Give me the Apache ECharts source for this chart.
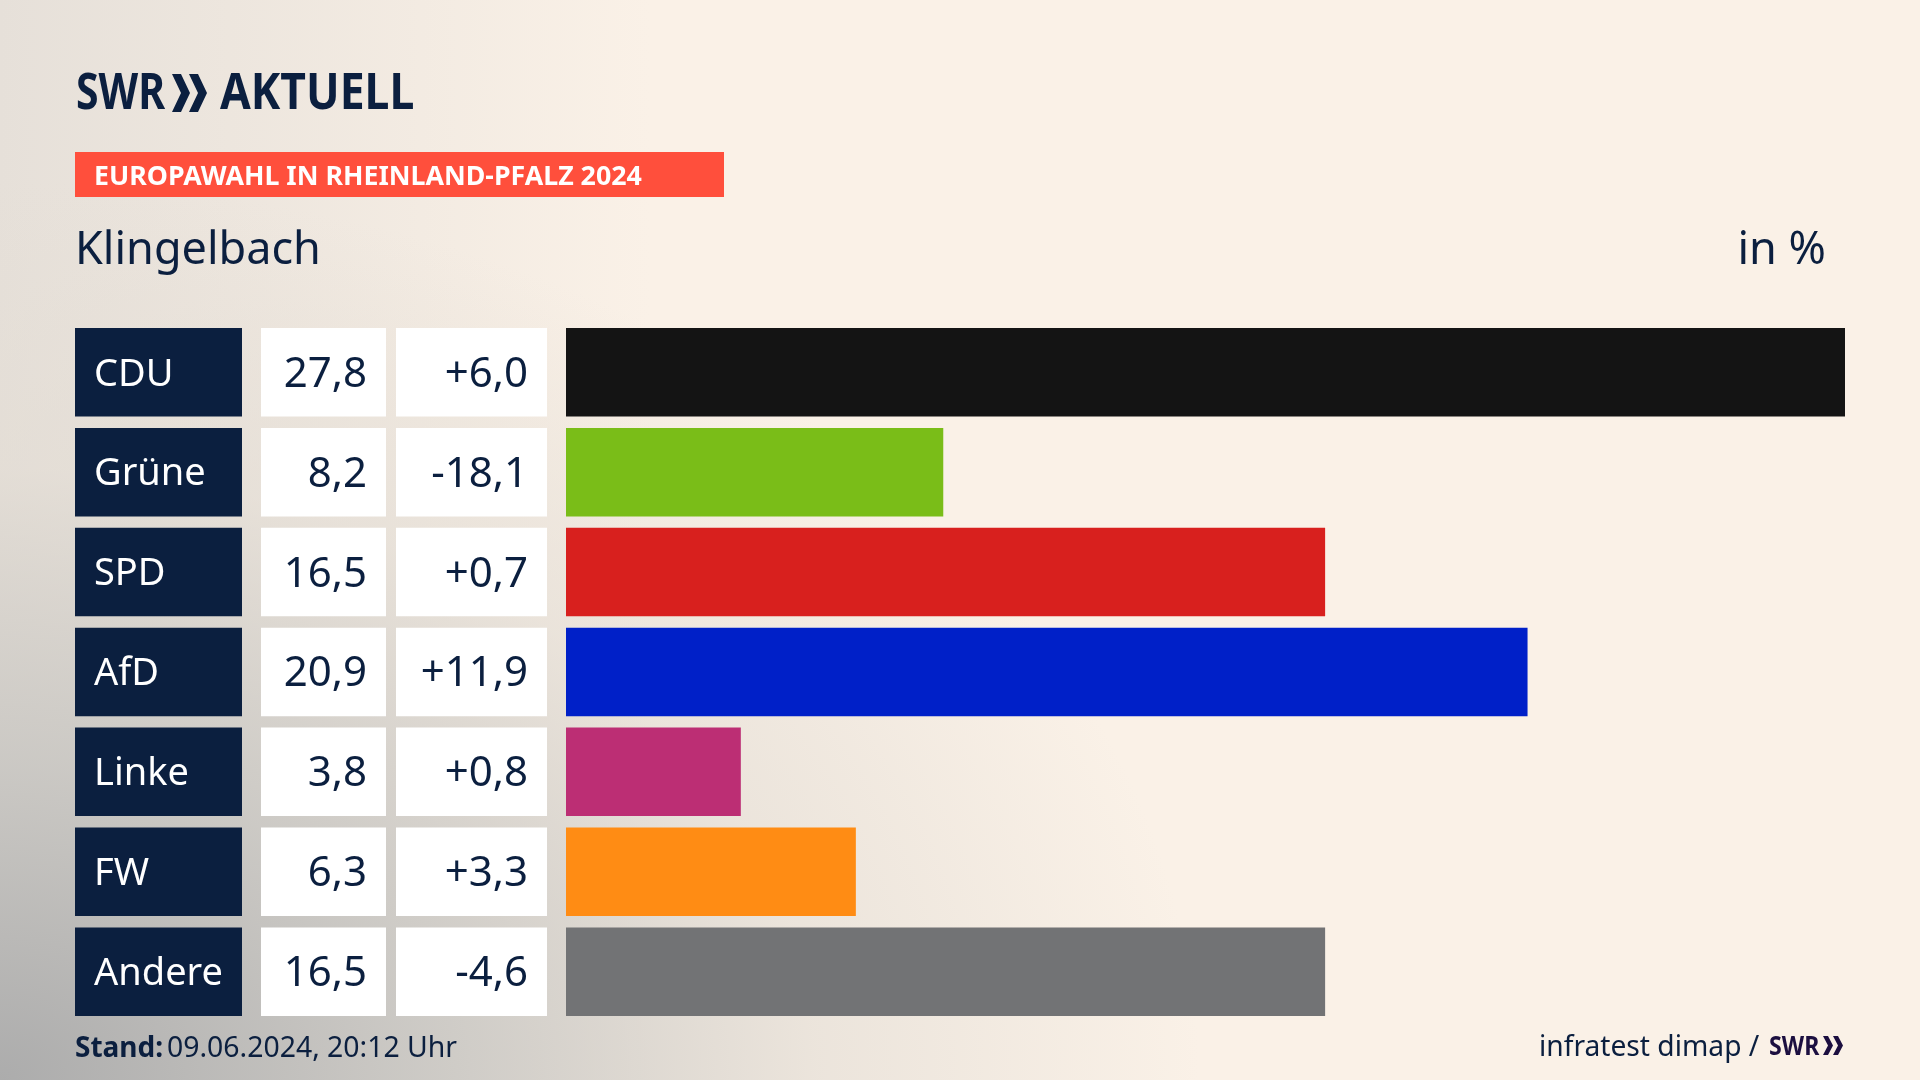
<!DOCTYPE html>
<html>
<head>
<meta charset="utf-8">
<title>Europawahl Klingelbach</title>
<script src="https://cdn.jsdelivr.net/npm/echarts@6/dist/echarts.min.js"></script>
<style>
html, body { margin: 0; width: 100%; height: 100%; }
body {
	background:
		radial-gradient(ellipse 1200px 900px at 0% 100%, rgba(172,172,172,1) 0%, rgba(200,198,194,0.9) 35%, rgba(226,220,212,0.6) 68%, rgba(250,241,231,0) 100%),
		linear-gradient(90deg, #e6e0d9 0px, #faf1e7 650px);
	background-color: #faf1e7;
}
#chart { width: 1920px; height: 1080px; }
</style>
</head>
<body>
<div id="chart"></div>
<script>
const parties = ['CDU', 'Grüne', 'SPD', 'AfD', 'Linke', 'FW', 'Andere'];
const shares = [27.8, 8.2, 16.5, 20.9, 3.8, 6.3, 16.5];
const changes = ['+6,0', '-18,1', '+0,7', '+11,9', '+0,8', '+3,3', '-4,6'];
const barColors = ['#141414', '#7abd18', '#d8201e', '#0020c8', '#bc2e74', '#ff8c14', '#727375'];

const NAVY = '#0b1f3f';
const FONT = '"Noto Sans"';
const BAR_H = 88.5;

// jede Tabellenspalte ist ein eigenes Grid mit Balken über die volle Breite
const columns = [
	{ left: 75, width: 167, color: NAVY, text: '#ffffff', pos: 'insideLeft', size: 38, label: i => parties[i] },
	{ left: 261, width: 125, color: '#ffffff', text: NAVY, pos: 'insideRight', size: 42, label: i => shares[i].toFixed(1).replace('.', ',') },
	{ left: 396, width: 151, color: '#ffffff', text: NAVY, pos: 'insideRight', size: 42, label: i => changes[i] }
];
const gridTop = 322.3;
const gridHeight = 699.3;

const grids = [], xAxes = [], yAxes = [], series = [];
columns.forEach((c, n) => {
	grids.push({ left: c.left, width: c.width, top: gridTop, height: gridHeight });
	xAxes.push({ type: 'value', gridIndex: n, min: 0, max: 1, show: false });
	yAxes.push({ type: 'category', gridIndex: n, data: parties, inverse: true, show: false });
	series.push({
		type: 'bar',
		xAxisIndex: n,
		yAxisIndex: n,
		barWidth: BAR_H,
		silent: true,
		data: parties.map(() => 1),
		itemStyle: { color: c.color },
		label: {
			show: true,
			position: c.pos,
			distance: 19,
			offset: [0, 2.5],
			color: c.text,
			fontFamily: FONT,
			fontSize: c.size,
			formatter: p => c.label(p.dataIndex)
		}
	});
});

// die eigentlichen Ergebnisbalken
grids.push({ left: 566, width: 1279, top: gridTop, height: gridHeight });
xAxes.push({ type: 'value', gridIndex: 3, min: 0, max: 27.8, show: false });
yAxes.push({ type: 'category', gridIndex: 3, data: parties, inverse: true, show: false });
series.push({
	type: 'bar',
	xAxisIndex: 3,
	yAxisIndex: 3,
	barWidth: BAR_H,
	silent: true,
	data: shares.map((v, i) => ({ value: v, itemStyle: { color: barColors[i] } }))
});

function chevron(x, y, w, h, t, color) {
	return {
		type: 'polygon',
		shape: { points: [[x, y], [x + t, y], [x + w, y + h / 2], [x + t, y + h], [x, y + h], [x + w - t, y + h / 2]] },
		style: { fill: color }
	};
}

function txt(x, y, text, font, fill, align, extra) {
	return Object.assign({
		type: 'text',
		x: x,
		y: y,
		style: { text: text, font: font, fill: fill, align: align || 'left', verticalAlign: 'middle' }
	}, extra || {});
}

const PURPLE = '#1c0f40';
const graphics = [
	txt(76, 95, 'SWR', '700 50px ' + FONT, NAVY, 'left', { scaleX: 0.82 }),
	chevron(172, 74, 18, 38, 9, NAVY),
	chevron(189, 74, 18, 38, 9, NAVY),
	txt(220, 95, 'AKTUELL', '700 50px ' + FONT, NAVY, 'left', { scaleX: 0.89 }),
	{ type: 'rect', shape: { x: 75, y: 152, width: 649, height: 45 }, style: { fill: '#ff4f3c' } },
	txt(94, 177, 'EUROPAWAHL IN RHEINLAND-PFALZ 2024', '700 26.75px ' + FONT, '#ffffff'),
	txt(75, 251, 'Klingelbach', '400 45px ' + FONT, NAVY),
	txt(1826, 251, 'in %', '400 45px ' + FONT, NAVY, 'right'),
	txt(75, 1049, 'Stand:', '700 28px ' + FONT, NAVY),
	txt(167, 1049, '09.06.2024, 20:12 Uhr', '400 28.4px ' + FONT, NAVY),
	txt(1539, 1048, 'infratest dimap /', '400 28.2px ' + FONT, NAVY),
	txt(1769, 1048, 'SWR', '700 26px ' + FONT, PURPLE, 'left', { scaleX: 0.89 }),
	chevron(1823, 1036, 10, 19, 5, PURPLE),
	chevron(1833, 1036, 10, 19, 5, PURPLE)
];

const myChart = echarts.init(document.getElementById('chart'));
myChart.setOption({
	animation: false,
	backgroundColor: 'transparent',
	grid: grids,
	xAxis: xAxes,
	yAxis: yAxes,
	series: series,
	graphic: { elements: graphics }
});
</script>
</body>
</html>
